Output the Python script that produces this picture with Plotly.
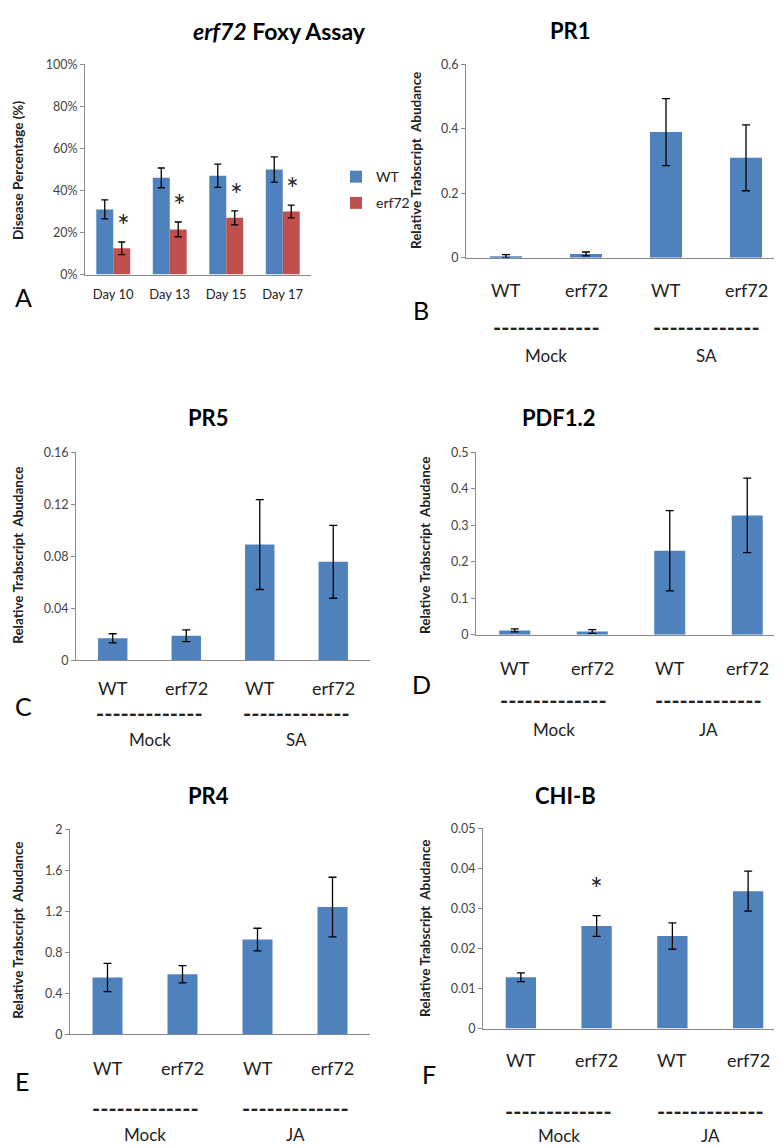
import plotly.graph_objects as go

W, H = 782, 1146
FONT = "Lato, 'Open Sans', sans-serif"
BLUE = "#4F81BD"
RED = "#C0504D"
AXC = "#8a8a8a"

# ---------------- Panel A data ----------------
days = ["Day 10", "Day 13", "Day 15", "Day 17"]
wt_disease = [31, 46, 47, 50]
wt_disease_err = [4.5, 4.7, 5.5, 6.0]
erf_disease = [12.5, 21.5, 27, 30]
erf_disease_err = [3.0, 3.5, 3.3, 3.0]
a_ticks = [0, 20, 40, 60, 80, 100]

# ---------------- Expression panels ----------------
genotypes = ["WT", "erf72", "WT ", "erf72 "]
geno_labels = ["WT", "erf72", "WT", "erf72"]

pr1 = [0.005, 0.012, 0.39, 0.31]
pr1_err = [0.005, 0.006, 0.104, 0.102]
pr5 = [0.017, 0.019, 0.089, 0.0758]
pr5_err = [0.0035, 0.0045, 0.0345, 0.028]
pdf12 = [0.012, 0.009, 0.23, 0.327]
pdf12_err = [0.004, 0.005, 0.11, 0.102]
pr4 = [0.555, 0.587, 0.925, 1.242]
pr4_err = [0.138, 0.084, 0.11, 0.29]
chib = [0.0128, 0.0256, 0.0231, 0.0343]
chib_err = [0.0011, 0.0026, 0.0033, 0.005]

pr1_ticks = [0, 0.2, 0.4, 0.6]
pr5_ticks = [0, 0.04, 0.08, 0.12, 0.16]
pdf12_ticks = [0, 0.1, 0.2, 0.3, 0.4, 0.5]
pr4_ticks = [0, 0.4, 0.8, 1.2, 1.6, 2]
chib_ticks = [0, 0.01, 0.02, 0.03, 0.04, 0.05]


def px_x(p):
    return p / W


def px_y(p):
    return 1 - p / H


fig = go.Figure()

# ----- Panel A -----
fig.add_trace(go.Bar(
    x=days, y=wt_disease, name="WT", marker=dict(color=BLUE, line=dict(width=0)),
    error_y=dict(type="data", array=wt_disease_err, color="black", thickness=1.3, width=3.5),
    xaxis="x", yaxis="y", legendgroup="wt"))
fig.add_trace(go.Bar(
    x=days, y=erf_disease, name="erf72", marker=dict(color=RED, line=dict(width=0)),
    error_y=dict(type="data", array=erf_disease_err, color="black", thickness=1.3, width=3.5),
    xaxis="x", yaxis="y", legendgroup="erf"))

panels = [
    ("2", pr1, pr1_err, pr1_ticks, "PR1", "SA", (458, 778), (49, 245),
     32, 70, 98, (585, 15), (408, 147), ("B", 413, 298)),
    ("3", pr5, pr5_err, pr5_ticks, "PR5", "SA", (68, 362), (442, 653),
     28, 53, 79, (178, 407), (10, 547), ("C", 15, 699)),
    ("4", pdf12, pdf12_err, pdf12_ticks, "PDF1.2", "JA", (468, 778), (442, 627),
     33, 66, 95, (590, 407), (417, 537), ("D", 413, 677)),
    ("5", pr4, pr4_err, pr4_ticks, "PR4", "JA", (62, 362), (824, 1032),
     34, 74, 100, (178, 790), (10, 927), ("E", 14, 1079)),
    ("6", chib, chib_err, chib_ticks, "CHI-B", "JA", (475, 778), (823, 1026),
     31, 83, 107, (590, 790), (417, 925), ("F", 421, 1072)),
]

annotations = []


def ax_common():
    return dict(showline=True, linecolor=AXC, linewidth=1, showgrid=False,
                zeroline=False, fixedrange=True)


layout = dict(
    width=W, height=H, margin=dict(l=0, r=0, t=0, b=0),
    paper_bgcolor="white", plot_bgcolor="white",
    font=dict(family=FONT, color="#222"),
    barmode="group", bargap=0.4, bargroupgap=0,
    showlegend=True,
    legend=dict(x=px_x(328), y=px_y(147), xanchor="left", yanchor="top",
                font=dict(size=14, family=FONT, color="#222"),
                tracegroupgap=5, itemwidth=30, bgcolor="rgba(0,0,0,0)"),
)

TICKFONT = dict(size=12.5, family=FONT, color="#444")

# Axis A
layout["xaxis"] = dict(domain=[px_x(77), px_x(303)], anchor="y", ticks="",
                       tickfont=dict(size=13, family=FONT, color="#222"),
                       ticklabelstandoff=8, **ax_common())
layout["yaxis"] = dict(domain=[px_y(262), px_y(49)], anchor="x", range=[0, 100],
                       tickvals=a_ticks, ticktext=[f"{v}%" for v in a_ticks],
                       ticks="outside", ticklen=4, tickcolor=AXC,
                       tickfont=TICKFONT, **ax_common())

# Asterisks A (above erf72 bars)
for i, d in enumerate(days):
    annotations.append(dict(x=i + 0.18, y=erf_disease[i] + erf_disease_err[i] + 8,
                            xref="x", yref="y", text="*", showarrow=False,
                            font=dict(size=30, family=FONT, color="#222"),
                            yanchor="middle"))

# Title A
annotations.append(dict(x=px_x(183), y=px_y(15), xref="paper", yref="paper",
                        text="<b><i>erf72</i> Foxy Assay</b>", showarrow=False,
                        font=dict(size=23, family=FONT, color="black"), yanchor="middle"))
annotations.append(dict(x=px_x(10), y=px_y(157), xref="paper", yref="paper",
                        text="<b>Disease Percentage (%)</b>", showarrow=False, textangle=-90,
                        font=dict(size=13.5, family=FONT, color="#222"),
                        xanchor="center", yanchor="middle"))
annotations.append(dict(x=px_x(15), y=px_y(285), xref="paper", yref="paper",
                        text="A", showarrow=False,
                        font=dict(size=25, family=FONT, color="black"),
                        xanchor="center", yanchor="middle"))

for (k, vals, errs, ticks, title, treat, xd, yd, lab_off, dash_off, grp_off,
     tpos, ytpos, letter) in panels:
    xa = "x" + k
    ya = "y" + k
    fig.add_trace(go.Bar(
        x=genotypes, y=vals, width=0.4, showlegend=False,
        marker=dict(color=BLUE, line=dict(width=0)),
        error_y=dict(type="data", array=errs, color="black", thickness=1.3, width=4),
        xaxis=xa, yaxis=ya))
    layout["xaxis" + k] = dict(domain=[px_x(xd[0]), px_x(xd[1])], anchor=ya,
                               ticks="", showticklabels=False, **ax_common())
    layout["yaxis" + k] = dict(domain=[px_y(yd[1]), px_y(yd[0])], anchor=xa,
                               range=[0, ticks[-1]], tickvals=ticks,
                               ticktext=[f"{t:g}" for t in ticks],
                               ticks="outside", ticklen=4, tickcolor=AXC,
                               tickfont=TICKFONT, **ax_common())
    for i, g in enumerate(genotypes):
        annotations.append(dict(x=i, y=0, xref=xa, yref=ya + " domain",
                                text=geno_labels[i], showarrow=False, yshift=-lab_off,
                                font=dict(size=18, family=FONT, color="#222"),
                                yanchor="middle"))
    for cx, grp in ((0.5, "Mock"), (2.5, treat)):
        annotations.append(dict(x=cx, y=0, xref=xa, yref=ya + " domain",
                                text="<b>-------------</b>", showarrow=False, yshift=-dash_off,
                                font=dict(size=22, family=FONT, color="#222"),
                                yanchor="middle"))
        annotations.append(dict(x=cx, y=0, xref=xa, yref=ya + " domain",
                                text=grp, showarrow=False, yshift=-grp_off,
                                font=dict(size=17, family=FONT, color="#222"),
                                yanchor="middle"))
    annotations.append(dict(x=px_x(tpos[0]), y=px_y(tpos[1]), xref="paper", yref="paper",
                            text=f"<b>{title}</b>", showarrow=False,
                            font=dict(size=22, family=FONT, color="black"),
                            yanchor="middle"))
    annotations.append(dict(x=px_x(ytpos[0]), y=px_y(ytpos[1]), xref="paper", yref="paper",
                            text="<b>Relative Trabscript  Abudance</b>", showarrow=False,
                            textangle=-90, font=dict(size=13.5, family=FONT, color="#222"),
                            xanchor="center", yanchor="middle"))
    annotations.append(dict(x=px_x(letter[1]), y=px_y(letter[2]), xref="paper", yref="paper",
                            text=letter[0], showarrow=False,
                            font=dict(size=25, family=FONT, color="black"),
                            xanchor="center", yanchor="middle"))

# Asterisk F (above erf72 mock)
annotations.append(dict(x=1, y=chib[1] + chib_err[1] + 0.007, xref="x6", yref="y6",
                        text="*", showarrow=False,
                        font=dict(size=30, family=FONT, color="#222"), yanchor="middle"))

layout["annotations"] = annotations
fig.update_layout(**layout)
fig.write_html("out.html")
